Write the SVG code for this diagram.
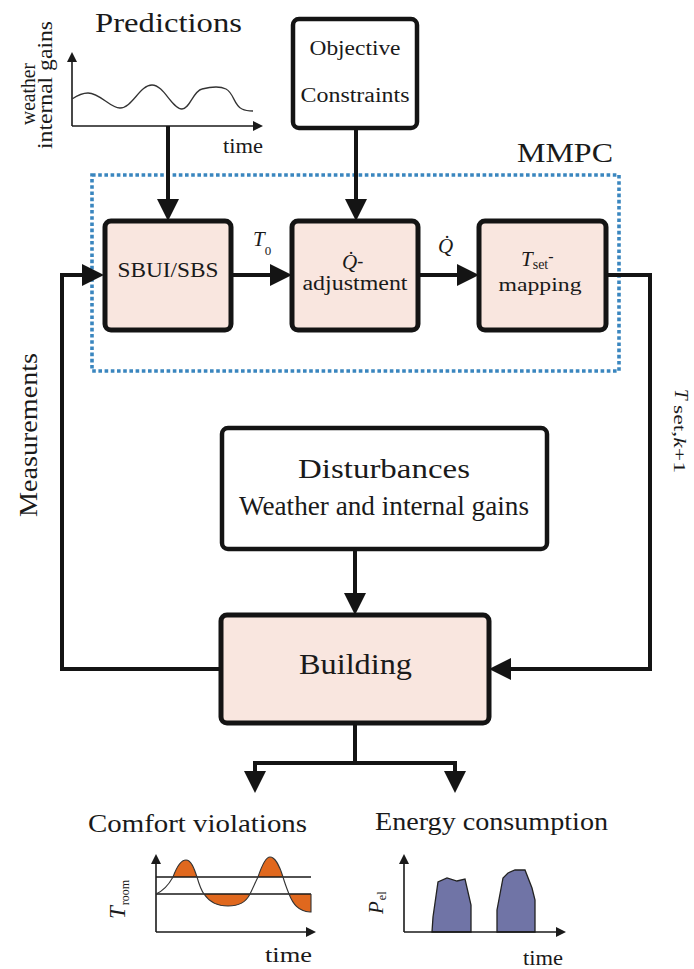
<svg xmlns="http://www.w3.org/2000/svg" width="694" height="969" viewBox="0 0 694 969">
<style>
text{font-family:'Liberation Serif','DejaVu Serif',serif;fill:#1a1a1a}
tspan{fill:#1a1a1a}
.it{font-style:italic}
.blk{fill:#f9e6df;stroke:#141414;stroke-width:5}
.wbox{fill:#fff;stroke:#141414;stroke-width:4.5}
.conn{fill:none;stroke:#141414;stroke-width:4}
.ax{fill:none;stroke:#1a1a1a;stroke-width:1.6}
.mmpc{fill:none;stroke:#3a86bf;stroke-width:3.6;stroke-dasharray:3.6 2.6}
</style>
<defs>
<marker id="ah" markerUnits="userSpaceOnUse" markerWidth="22" markerHeight="22" viewBox="0 0 22 22" refX="14" refY="11" orient="auto"><path d="M0,0 L22,11 L0,22 z" fill="#141414"/></marker>
<marker id="sa" markerUnits="userSpaceOnUse" markerWidth="10" markerHeight="10" viewBox="0 0 10 10" refX="4" refY="5" orient="auto"><path d="M0,0 L10,5 L0,10 z" fill="#1a1a1a"/></marker>
</defs>

<g id="mmpc">
<rect class="mmpc" x="92" y="175" width="527" height="196"/>
<text x="565" y="162" font-size="27" text-anchor="middle" textLength="96" lengthAdjust="spacingAndGlyphs">MMPC</text>
</g>

<g id="predictions">
<text x="168.5" y="32" font-size="27" text-anchor="middle" textLength="147" lengthAdjust="spacingAndGlyphs">Predictions</text>
<text transform="translate(35,125) rotate(-90)" font-size="20" textLength="62" lengthAdjust="spacingAndGlyphs">weather</text>
<text transform="translate(52,149) rotate(-90)" font-size="20" textLength="128" lengthAdjust="spacingAndGlyphs">internal gains</text>
<path class="ax" d="M72,126 V58" marker-end="url(#sa)"/>
<path class="ax" d="M72,126 H257" marker-end="url(#sa)"/>
<path fill="none" stroke="#333" stroke-width="1.3" d="M72,99 C78,95 83,93 88,93 C100,93 110,108 120,108 C132,108 140,85 152,85 C164,85 172,109 182,109 C190,109 193,91 202,89 C210,87 220,86 226,89 C234,93 234,106 242,109 C246,111 250,111 253,111"/>
<text x="243" y="153" font-size="20" text-anchor="middle" textLength="40" lengthAdjust="spacingAndGlyphs">time</text>
</g>

<g id="objective">
<rect class="wbox" x="293" y="19" width="124" height="109" rx="6"/>
<text x="355" y="55" font-size="20" text-anchor="middle" textLength="91" lengthAdjust="spacingAndGlyphs">Objective</text>
<text x="355" y="102" font-size="20" text-anchor="middle" textLength="109" lengthAdjust="spacingAndGlyphs">Constraints</text>
</g>

<g id="sbui">
<rect class="blk" x="105" y="221" width="126" height="109" rx="6"/>
<text x="168" y="277" font-size="21" text-anchor="middle" textLength="101" lengthAdjust="spacingAndGlyphs">SBUI/SBS</text>
</g>

<g id="qadj">
<rect class="blk" x="292" y="221" width="126" height="109" rx="6"/>
<text x="342" y="269" font-size="21"><tspan class="it">Q&#x307;</tspan><tspan font-size="18" dy="-2">-</tspan></text>
<text x="355" y="290" font-size="20" text-anchor="middle" textLength="105" lengthAdjust="spacingAndGlyphs">adjustment</text>
</g>

<g id="tset">
<rect class="blk" x="479" y="221" width="127" height="109" rx="6"/>
<text x="521" y="266" font-size="21"><tspan class="it">T</tspan><tspan font-size="14" dy="3">set</tspan><tspan font-size="16" dy="-7">-</tspan></text>
<text x="540" y="291" font-size="19" text-anchor="middle" textLength="83" lengthAdjust="spacingAndGlyphs">mapping</text>
</g>

<g id="disturbances">
<rect class="wbox" x="222" y="428" width="325" height="121" rx="6"/>
<text x="384" y="478" font-size="27" text-anchor="middle" textLength="172" lengthAdjust="spacingAndGlyphs">Disturbances</text>
<text x="384" y="515" font-size="27" text-anchor="middle" textLength="290" lengthAdjust="spacingAndGlyphs">Weather and internal gains</text>
</g>

<g id="building">
<rect class="blk" x="221" y="615" width="268" height="108" rx="6"/>
<text x="355.5" y="674" font-size="30" text-anchor="middle" textLength="113" lengthAdjust="spacingAndGlyphs">Building</text>
</g>

<g id="connectors">
<path class="conn" d="M168,126 V213" marker-end="url(#ah)"/>
<path class="conn" d="M356,128 V213" marker-end="url(#ah)"/>
<path class="conn" d="M231,275 H284" marker-end="url(#ah)"/>
<path class="conn" d="M418,275 H471" marker-end="url(#ah)"/>
<path class="conn" d="M606,275 H650 V669 H497" marker-end="url(#ah)"/>
<path class="conn" d="M221,669 H62 V275 H96" marker-end="url(#ah)"/>
<path class="conn" d="M355,549 V607" marker-end="url(#ah)"/>
<path class="conn" d="M355,723 V763"/>
<path class="conn" d="M253,763 H457"/>
<path class="conn" d="M255,763 V785" marker-end="url(#ah)"/>
<path class="conn" d="M455,763 V785" marker-end="url(#ah)"/>
</g>

<g id="labels">
<text x="253" y="246" font-size="21"><tspan class="it">T</tspan><tspan font-size="13" dy="9">0</tspan></text>
<text x="438" y="253" font-size="21" class="it">Q&#x307;</text>
<text transform="translate(37,517) rotate(-90)" font-size="25" textLength="164" lengthAdjust="spacingAndGlyphs">Measurements</text>
<text transform="translate(675,389) rotate(90)" font-size="19" class="it">T</text>
<text transform="translate(674,405) rotate(90)" font-size="17" textLength="68" lengthAdjust="spacingAndGlyphs">set,<tspan class="it">k</tspan>+1</text>
</g>

<g id="comfort">
<text x="197.5" y="832" font-size="25" text-anchor="middle" textLength="219" lengthAdjust="spacingAndGlyphs">Comfort violations</text>
<path fill="#e0681e" d="M173,877 C177,866 181,860 186,860 C191,860 194,868 197,877 Z M204,894 C210,903 218,906 228,906 C240,906 246,902 250,894 Z M258,877 C262,865 266,857 270,857 C275,857 280,867 283,877 Z M289,894 C293,904 298,911 310,912 L311,912 L311,894 Z"/>
<path class="ax" d="M156,932 V860" marker-end="url(#sa)"/>
<path class="ax" d="M156,932 H310" marker-end="url(#sa)"/>
<path fill="none" stroke="#1a1a1a" stroke-width="1.3" d="M156,877 H311 M156,894 H311"/>
<path fill="none" stroke="#333" stroke-width="1.1" d="M156,894 C163,891 168,886 173,877 C177,866 181,860 186,860 C191,860 194,868 197,877 C199,884 201,890 204,894 C210,903 218,906 228,906 C240,906 246,902 250,894 C253,888 255,883 258,877 C262,865 266,857 270,857 C275,857 280,867 283,877 C285,884 287,889 289,894 C293,904 298,911 310,912 L311,912 L311,894"/>
<text transform="translate(125,919) rotate(-90)" font-size="23"><tspan class="it">T</tspan><tspan font-size="12" dy="4" dx="1">room</tspan></text>
<text x="288.5" y="962" font-size="20" text-anchor="middle" textLength="47" lengthAdjust="spacingAndGlyphs">time</text>
</g>

<g id="energy">
<text x="491.5" y="830" font-size="25" text-anchor="middle" textLength="233" lengthAdjust="spacingAndGlyphs">Energy consumption</text>
<path fill="#7074a6" stroke="#222" stroke-width="1.3" d="M432,932 L433,917 L438,882 L447,878 L457,881 L465,879 L471,905 L471,932 Z M497,932 L497,910 L503,878 L508,873 L515,870 L525,870 L532,888 L535,900 L535,932 Z"/>
<path class="ax" d="M404,932 V860" marker-end="url(#sa)"/>
<path class="ax" d="M404,932 H560" marker-end="url(#sa)"/>
<text transform="translate(383,914) rotate(-90)" font-size="21"><tspan class="it">P</tspan><tspan font-size="12" dy="3" dx="1">el</tspan></text>
<text x="543" y="965" font-size="20" text-anchor="middle" textLength="40" lengthAdjust="spacingAndGlyphs">time</text>
</g>
</svg>
